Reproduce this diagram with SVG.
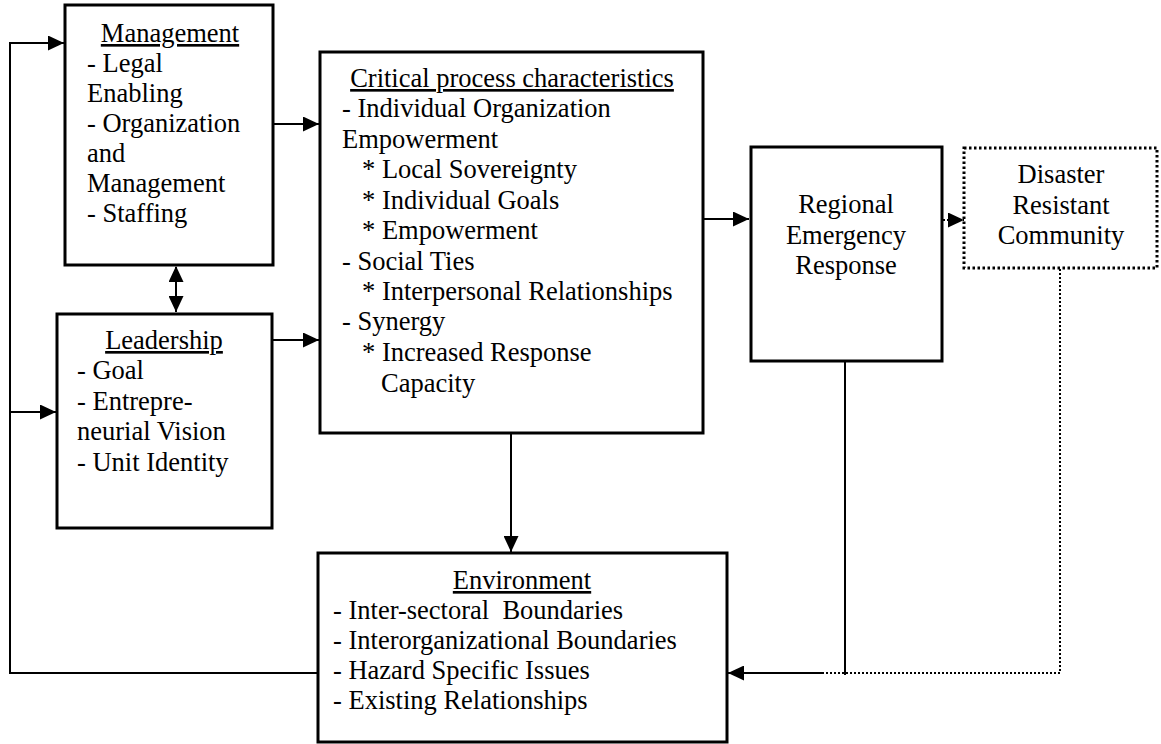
<svg xmlns="http://www.w3.org/2000/svg" width="1161" height="744" viewBox="0 0 1161 744">
<defs>
<style>
text{font-family:"Liberation Serif","Times New Roman",serif;font-size:26.5px;fill:#000;white-space:pre}
.c{text-anchor:middle}
.u{text-decoration:underline}
.box{fill:#fff;stroke:#000;stroke-width:3}
.dbox{fill:#fff;stroke:#000;stroke-width:3;stroke-dasharray:2.5 2.5}
.ln{fill:none;stroke:#000;stroke-width:2}
.dl{fill:none;stroke:#000;stroke-width:2;stroke-dasharray:2 2}
</style>
<marker id="ah" markerUnits="userSpaceOnUse" markerWidth="17" markerHeight="15" refX="16" refY="7.5" orient="auto">
<path d="M0,0 L16,7.5 L0,15 Z" fill="#000"/>
</marker>
<marker id="as" markerUnits="userSpaceOnUse" markerWidth="17" markerHeight="15" refX="1" refY="7.5" orient="auto">
<path d="M16,0 L0,7.5 L16,15 Z" fill="#000"/>
</marker>
</defs>
<rect width="1161" height="744" fill="#fff"/>
<g id="connectors">
<path class="ln" d="M317,673 H10 V43 H64" marker-end="url(#ah)"/>
<path class="ln" d="M10,412 H56" marker-end="url(#ah)"/>
<path class="ln" d="M176,267 V312" marker-start="url(#as)" marker-end="url(#ah)"/>
<path class="ln" d="M274,124 H319" marker-end="url(#ah)"/>
<path class="ln" d="M273,340 H319" marker-end="url(#ah)"/>
<path class="ln" d="M704,219 H749" marker-end="url(#ah)"/>
<path class="dl" d="M943,220 H964" marker-end="url(#ah)"/>
<path class="ln" d="M511,434 V552" marker-end="url(#ah)"/>
<path class="ln" d="M845,362 V675"/>
<path class="dl" d="M1060,269 V673 H823"/>
<path class="ln" d="M823,673 H728" marker-end="url(#ah)"/>
</g>
<g id="management">
<rect class="box" x="65" y="5" width="208" height="260"/>
<text class="c u" x="170" y="42">Management</text>
<text x="87" y="72">- Legal</text>
<text x="87" y="102">Enabling</text>
<text x="87" y="132">- Organization</text>
<text x="87" y="162">and</text>
<text x="87" y="192">Management</text>
<text x="87" y="222">- Staffing</text>
</g>
<g id="leadership">
<rect class="box" x="57" y="314" width="215" height="214"/>
<text class="c u" x="164" y="349">Leadership</text>
<text x="77" y="379">- Goal</text>
<text x="77" y="410">- Entrepre-</text>
<text x="77" y="440">neurial Vision</text>
<text x="77" y="471">- Unit Identity</text>
</g>
<g id="critical">
<rect class="box" x="320" y="52" width="383" height="381"/>
<text class="c u" x="512" y="87">Critical process characteristics</text>
<text x="342" y="117">- Individual Organization</text>
<text x="342" y="148">Empowerment</text>
<text x="362" y="178">* Local Sovereignty</text>
<text x="362" y="209">* Individual Goals</text>
<text x="362" y="239">* Empowerment</text>
<text x="342" y="270">- Social Ties</text>
<text x="362" y="300">* Interpersonal Relationships</text>
<text x="342" y="330">- Synergy</text>
<text x="362" y="361">* Increased Response</text>
<text x="381" y="392">Capacity</text>
</g>
<g id="regional">
<rect class="box" x="751" y="147" width="191" height="214"/>
<text class="c" x="846" y="213">Regional</text>
<text class="c" x="846" y="244">Emergency</text>
<text class="c" x="846" y="274">Response</text>
</g>
<g id="disaster">
<rect class="dbox" x="964" y="148" width="193" height="120"/>
<text class="c" x="1061" y="183">Disaster</text>
<text class="c" x="1061" y="214">Resistant</text>
<text class="c" x="1061" y="244">Community</text>
</g>
<g id="environment">
<rect class="box" x="318" y="553" width="409" height="189"/>
<text class="c u" x="522" y="589">Environment</text>
<text x="333" y="619">- Inter-sectoral  Boundaries</text>
<text x="333" y="649">- Interorganizational Boundaries</text>
<text x="333" y="679">- Hazard Specific Issues</text>
<text x="333" y="709">- Existing Relationships</text>
</g>
</svg>
